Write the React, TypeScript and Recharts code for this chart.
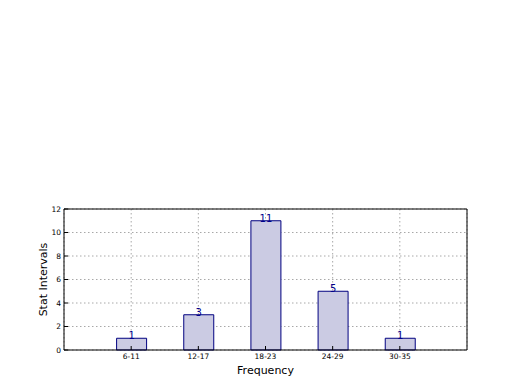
import React from 'react'
import {
  BarChart,
  Bar,
  XAxis,
  YAxis,
  CartesianGrid,
  LabelList,
} from 'recharts'

const categories = ['6-11', '12-17', '18-23', '24-29', '30-35']
const counts = [1, 3, 11, 5, 1]
const yTicks = [0, 2, 4, 6, 8, 10, 12]

const data = categories.map((c, i) => ({ name: c, value: counts[i] }))

const font = 'DejaVu Sans, sans-serif'

export default function App() {
  return (
    <div style={{ position: 'absolute', left: 0, top: 0, background: '#fff' }}>
      <BarChart
        width={520}
        height={390}
        data={data}
        margin={{ top: 208, right: 52, left: 0, bottom: 0 }}
      >
        <CartesianGrid stroke="#a8a8a8" strokeDasharray="1.5 2.5" />
        <XAxis
          dataKey="name"
          padding={{ left: 33.6, right: 33.6 }}
          height={40}
          stroke="#000"
          tickSize={-4}
          tickMargin={8}
          tick={{ fontSize: 7.5, fill: '#000', fontFamily: font }}
          label={{ value: 'Frequency', position: 'center', dy: 0, fontSize: 11, fill: '#000', fontFamily: font }}
        />
        <XAxis xAxisId="top" dataKey="name" orientation="top" height={1} tick={false} tickLine={false} stroke="#000" />
        <YAxis
          domain={[0, 12]}
          ticks={yTicks}
          width={64}
          stroke="#000"
          tickSize={-4}
          tickMargin={7}
          interval={0}
          tick={{ fontSize: 7.5, fill: '#000', fontFamily: font }}
          label={{ value: 'Stat Intervals', angle: -90, position: 'center', dx: 11, fontSize: 11, fill: '#000', fontFamily: font }}
        />
        <YAxis yAxisId="right" orientation="right" width={1} domain={[0, 12]} tick={false} tickLine={false} stroke="#000" />
        <Bar dataKey="value" barSize={30} fill="#cbcbe3" stroke="#000080" strokeWidth={1} isAnimationActive={false}>
          <LabelList dataKey="value" position="top" offset={-1} fill="#00008b" fontSize={10} fontFamily={font} />
        </Bar>
      </BarChart>
    </div>
  )
}
